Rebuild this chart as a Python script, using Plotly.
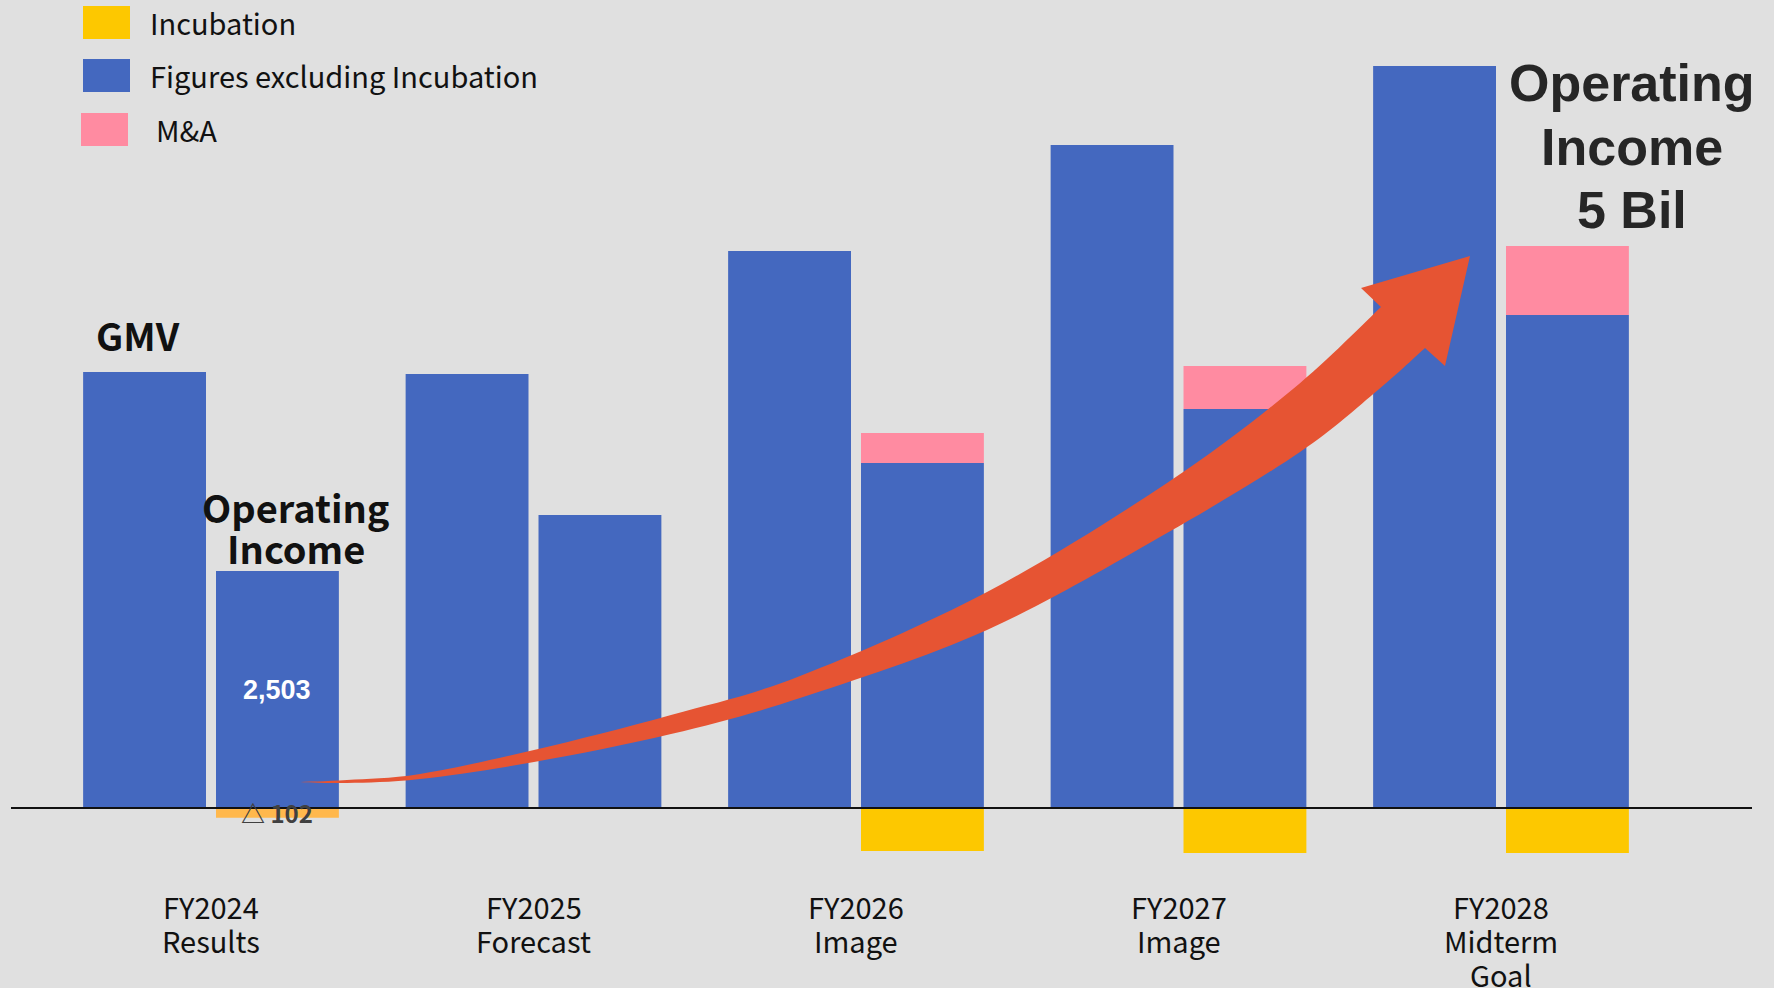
import plotly.graph_objects as go

# ---- data -------------------------------------------------------------
years = ["FY2024", "FY2025", "FY2026", "FY2027", "FY2028"]
stages = [["Results"], ["Forecast"], ["Image"], ["Image"], ["Midterm", "Goal"]]
gmv = [4605, 4583, 5882, 7002, 7836]                 # GMV (relative scale)
op_income_core = [2503, 3094, 3644, 4214, 5207]      # operating income excl. incubation
mna = [0, 0, 317, 454, 729]                          # M&A contribution
incubation = [-102, 0, -454, -475, -475]             # incubation investment

# ---- styling ------------------------------------------------------------
BG = "#E0E0E0"
BLUE = "#4468BF"
PINK = "#FF8BA1"
YELLOW = "#FDC800"
ORANGE = "#FFB84D"
ARROW = "#E65433"
JP = "Noto Sans CJK JP"
W, H = 1774, 988
ML, MR = 11, 22
PW = W - ML - MR

GAP = 0.206      # half distance between the paired bar centres
BW = 0.381       # bar width

idx = list(range(len(years)))
x_gmv = [i - GAP for i in idx]
x_oi = [i + GAP for i in idx]
inc_colors = [ORANGE if i == 0 else YELLOW for i in idx]

fig = go.Figure()
fig.add_bar(x=x_gmv, y=gmv, width=BW, marker=dict(color=BLUE, line_width=0),
            name="GMV", showlegend=False)
fig.add_bar(x=x_oi, y=op_income_core, width=BW, marker=dict(color=BLUE, line_width=0),
            name="Figures excluding Incubation", showlegend=False)
fig.add_bar(x=x_oi, y=mna, base=op_income_core, width=BW,
            marker=dict(color=PINK, line_width=0), name="M&A", showlegend=False)
fig.add_bar(x=x_oi, y=incubation, width=BW, marker=dict(color=inc_colors, line_width=0),
            name="Incubation", showlegend=False)


def px(X):
    return (X - ML) / PW


def py(Y):
    return 1 - Y / H


shapes = []
annotations = []

# zero line
shapes.append(dict(type="line", xref="paper", yref="y", x0=0, x1=1, y0=0, y1=0,
                   line=dict(color="#111111", width=2), layer="above"))


# growth arrow (smooth Catmull-Rom edges)
def smooth(points):
    pts = [points[0]] + points + [points[-1]]
    out = ""
    for k in range(1, len(pts) - 2):
        p0, p1, p2, p3 = pts[k - 1], pts[k], pts[k + 1], pts[k + 2]
        c1 = (p1[0] + (p2[0] - p0[0]) / 6, p1[1] + (p2[1] - p0[1]) / 6)
        c2 = (p2[0] - (p3[0] - p1[0]) / 6, p2[1] - (p3[1] - p1[1]) / 6)
        out += " C {:.5f},{:.5f} {:.5f},{:.5f} {:.5f},{:.5f}".format(
            px(c1[0]), py(c1[1]), px(c2[0]), py(c2[1]), px(p2[0]), py(p2[1]))
    return out


upper = [(297, 782), (347, 780), (420, 774), (534, 750), (671, 715), (800, 676),
         (987, 592), (1167, 483), (1293, 389), (1381, 307)]
lower = [(297, 782), (347, 783), (420, 779), (534, 762), (671, 734), (800, 698),
         (987, 630), (1167, 533), (1300, 452), (1378, 390), (1425, 348)]
head = [(1361, 288), (1470, 256), (1445, 366)]

path = "M {:.5f},{:.5f}".format(px(upper[0][0]), py(upper[0][1]))
path += smooth(upper)
for hx, hy in head:
    path += " L {:.5f},{:.5f}".format(px(hx), py(hy))
path += " L {:.5f},{:.5f}".format(px(lower[-1][0]), py(lower[-1][1]))
path += smooth(list(reversed(lower)))
path += " Z"
shapes.append(dict(type="path", xref="paper", yref="paper", path=path,
                   fillcolor=ARROW, line=dict(width=0), layer="above"))

# legend
legend_items = [("Incubation", YELLOW, 83, 6, 148),
                ("Figures excluding Incubation", BLUE, 83, 59, 148),
                ("M&A", PINK, 81, 113, 154)]
for label, color, sx, sy, tx in legend_items:
    shapes.append(dict(type="rect", xref="paper", yref="paper",
                       x0=px(sx), x1=px(sx + 47), y0=py(sy), y1=py(sy + 33),
                       fillcolor=color, line=dict(width=0)))
    annotations.append(dict(xref="paper", yref="paper", x=px(tx), y=py(sy + 16),
                            text=label, showarrow=False, xanchor="left", yanchor="middle",
                            font=dict(family=JP, size=29, color="#111111")))

# category labels
line_y = [906, 940, 974]
for i, (yr, st) in enumerate(zip(years, stages)):
    for k, line in enumerate([yr] + st):
        annotations.append(dict(xref="x", yref="paper", x=i, y=py(line_y[k]),
                                text=line, showarrow=False, xanchor="center",
                                yanchor="middle",
                                font=dict(family=JP, size=29, color="#111111")))

# series titles
annotations.append(dict(xref="paper", yref="paper", x=px(138), y=py(334), text="GMV",
                        showarrow=False, xanchor="center", yanchor="middle",
                        font=dict(family=JP, size=38, color="#111111", weight="bold")))
for txt, yy in [("Operating", 506), ("Income", 547)]:
    annotations.append(dict(xref="paper", yref="paper", x=px(296), y=py(yy), text=txt,
                            showarrow=False, xanchor="center", yanchor="middle",
                            font=dict(family=JP, size=38, color="#111111", weight="bold")))
for txt, yy in [("Operating", 83), ("Income", 147), ("5 Bil", 210)]:
    annotations.append(dict(xref="paper", yref="paper", x=px(1632), y=py(yy), text=txt,
                            showarrow=False, xanchor="center", yanchor="middle",
                            font=dict(family="Liberation Sans", size=52, color="#262626",
                                      weight="bold")))

# value labels on the FY2024 operating income bar
annotations.append(dict(xref="x", yref="y", x=x_oi[0], y=op_income_core[0] / 2,
                        text=f"{op_income_core[0]:,}", showarrow=False,
                        xanchor="center", yanchor="middle",
                        font=dict(family="Liberation Sans", size=27, color="white",
                                  weight="bold")))
annotations.append(dict(xref="x", yref="y", x=x_oi[0], y=incubation[0] / 2,
                        text=f"△ {abs(incubation[0])}", showarrow=False,
                        xanchor="center", yanchor="middle",
                        font=dict(family=JP, size=24, color="#404040", weight="bold")))

UNIT = 2503 / 237  # value per pixel
fig.update_layout(
    width=W, height=H,
    margin=dict(l=ML, r=MR, t=0, b=0),
    paper_bgcolor=BG, plot_bgcolor=BG,
    barmode="overlay",
    xaxis=dict(range=[-200 / 322.5, 1541 / 322.5], visible=False, fixedrange=True),
    yaxis=dict(range=[-(H - 808) * UNIT, 808 * UNIT], visible=False, fixedrange=True),
    shapes=shapes,
    annotations=annotations,
    showlegend=False,
)

fig.write_html("out.html", config={"displayModeBar": False})
